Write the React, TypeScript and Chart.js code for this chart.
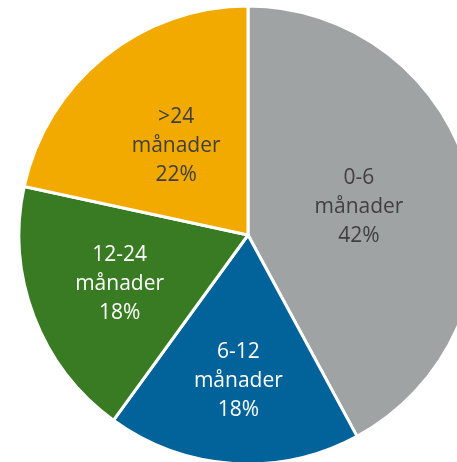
import React, { useEffect, useRef } from "react";
import { Chart, registerables } from "chart.js";

Chart.register(...registerables);

const categories = ["0-6 månader", "6-12 månader", "12-24 månader", ">24 månader"];
const values = [42.1, 17.9, 18.4, 21.6];
const labelLines = [
  ["0-6", "månader", "42%"],
  ["6-12", "månader", "18%"],
  ["12-24", "månader", "18%"],
  [">24", "månader", "22%"],
];
const colors = ["#A0A3A4", "#02629A", "#387B22", "#F2AA00"];
const textColors = ["#404040", "#FFFFFF", "#FFFFFF", "#404040"];

const labelPlugin = {
  id: "sliceLabels",
  afterDatasetsDraw(chart: any, _args: any, opts: any) {
    const ctx = chart.ctx;
    const meta = chart.getDatasetMeta(0);
    ctx.save();
    ctx.font = `${opts.fontSize}px "Open Sans"`;
    ctx.textAlign = "center";
    ctx.textBaseline = "middle";
    meta.data.forEach((arc: any, i: number) => {
      const p = arc.getProps(["x", "y", "startAngle", "endAngle", "outerRadius"], true);
      const mid = (p.startAngle + p.endAngle) / 2;
      const r = p.outerRadius * opts.radial[i];
      const cx = p.x + Math.cos(mid) * r;
      const cy = p.y + Math.sin(mid) * r;
      const lines = labelLines[i];
      ctx.fillStyle = textColors[i];
      lines.forEach((t: string, j: number) => {
        ctx.fillText(t, cx, cy + (j - (lines.length - 1) / 2) * opts.lineHeight);
      });
    });
    ctx.restore();
  },
};

export default function App() {
  const ref = useRef<HTMLCanvasElement>(null);
  useEffect(() => {
    document.body.style.margin = "0";
    document.body.style.overflow = "hidden";
    const chart = new Chart(ref.current!, {
      type: "pie",
      data: {
        labels: categories,
        datasets: [
          {
            data: values,
            backgroundColor: colors,
            borderColor: "#FFFFFF",
            borderWidth: 3,
            radius: 229,
          },
        ],
      },
      options: {
        responsive: false,
        animation: false,
        plugins: {
          legend: { display: false },
          tooltip: { enabled: false },
          sliceLabels: { fontSize: 21, lineHeight: 29, radial: [0.5, 0.64, 0.6, 0.5] },
        } as any,
      },
      plugins: [labelPlugin],
    });
    return () => chart.destroy();
  }, []);
  return (
    <div style={{ position: "fixed", left: 0, top: 0, width: 457, height: 462, overflow: "hidden", background: "#fff" }}>
      <canvas ref={ref} width={480} height={480} style={{ position: "absolute", left: 8, top: -5, width: 480, height: 480 }} />
    </div>
  );
}
